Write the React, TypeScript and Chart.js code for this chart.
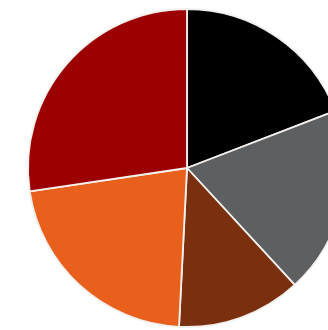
import React, { useEffect, useRef } from "react";
import { Chart, registerables } from "chart.js";

Chart.register(...registerables);

const labels = ["Black", "Gray", "Brown", "Orange", "Red"];
const values = [19.15, 19.0, 12.65, 21.85, 27.35];
const colors = ["#000000", "#5d5f61", "#7a300e", "#e8601c", "#9c0000"];

export default function App() {
  const ref = useRef<HTMLCanvasElement>(null);
  useEffect(() => {
    document.body.style.margin = "0";
    document.body.style.overflow = "hidden";
    const chart = new Chart(ref.current!, {
      type: "pie",
      data: {
        labels,
        datasets: [
          {
            data: values,
            backgroundColor: colors,
            borderColor: "#f4f0ee",
            borderWidth: 1.8,
          },
        ],
      },
      options: {
        responsive: false,
        animation: false,
        radius: 159,
        layout: { padding: 0 },
        plugins: { legend: { display: false }, tooltip: { enabled: false } },
      },
    });
    return () => chart.destroy();
  }, []);
  return (
    <div
      style={{
        position: "fixed",
        left: 0,
        top: 0,
        width: 328,
        height: 330,
        overflow: "hidden",
        background: "#fff",
      }}
    >
      <canvas
        ref={ref}
        width={340}
        height={340}
        style={{ position: "absolute", left: 17, top: -2, width: 340, height: 340 }}
      />
    </div>
  );
}
